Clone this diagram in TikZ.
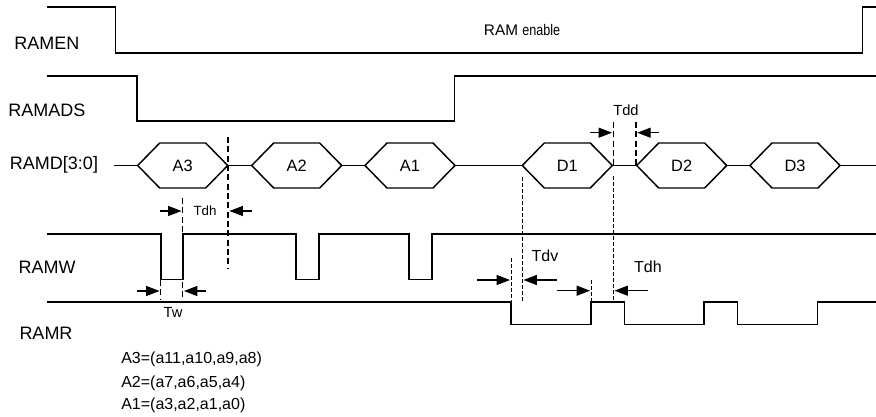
\documentclass[tikz,border=0pt]{standalone}
\usepackage{fontspec}
\setmainfont{Liberation Sans}
\usetikzlibrary{arrows.meta}
\begin{document}
\begin{tikzpicture}[x=0.75pt,y=-0.75pt,
 sig/.style={line width=1.4pt},
 sigthin/.style={line width=1pt},
 hexline/.style={line width=1.1pt, line join=miter},
 lbl/.style={font=\fontsize{13.5}{16}\selectfont, inner sep=0},
 hexlbl/.style={font=\fontsize{12.3}{14}\selectfont, inner sep=0},
 txt/.style={font=\fontsize{12}{14}\selectfont, inner sep=0},
 thk/.style={line width=1.1pt, dash pattern=on 4.5pt off 2.5pt},
 thn/.style={line width=0.6pt, dash pattern=on 3pt off 1.5pt},
 dimarrow/.style={-{Triangle[length=10pt,width=7.5pt]}, line width=0.8pt},
]
\useasboundingbox (0,0) rectangle (876,417);

% signal names
\node[lbl] (lramen) at (47,43) {RAMEN};
\node[lbl] (lramads) at (47,110) {RAMADS};
\node[lbl] (lramd) at (54,165) {RAMD[3:0]};
\node[lbl] (lramw) at (47,267) {RAMW};
\node[lbl] (lramr) at (46,333) {RAMR};

% RAMEN
\draw[sig] (47,7.3) -- (115.5,7.3) -- (115.5,52.7) -- (862.5,52.7) -- (862.5,7.3) -- (876,7.3);
\node[inner sep=0] (ramenable) at (522,30) {\fontsize{11.5}{13}\selectfont RAM \scalebox{0.82}[1]{enable}};

% RAMADS
\draw[sig] (47,76) -- (137.3,76) -- (137.3,120.7) -- (454.5,120.7) -- (454.5,76) -- (876,76);

% RAMD bus with hexagons
\foreach \l/\n in {137.7/A3, 251.7/A2, 365/A1, 522.3/D1, 636.7/D2, 750/D3}{
  \draw[hexline] (\l,165.5) -- ++(22,-22.5) -- ++(46,0) -- ++(22,22.5) -- ++(-22,22.5) -- ++(-46,0) -- cycle;
  \node[hexlbl] (h\n) at (\l+45,165.5) {\n};
  \coordinate (hl\n) at (\l,165.5);
  \coordinate (hr\n) at (\l+90,165.5);
}
\coordinate (busstart) at (114,165.5);
\coordinate (busend) at (876,165.5);
\draw[hexline] (busstart) -- (hlA3);
\draw[hexline] (hrA3) -- (hlA2);
\draw[hexline] (hrA2) -- (hlA1);
\draw[hexline] (hrA1) -- (hlD1);
\draw[hexline] (hrD1) -- (hlD2);
\draw[hexline] (hrD2) -- (hlD3);
\draw[hexline] (hrD3) -- (busend);

% RAMW
\draw[sig] (47,234) -- (160.7,234) -- (160.7,279.5) -- (182.7,279.5) -- (182.7,234)
  -- (296,234) -- (296,279.5) -- (319,279.5) -- (319,234)
  -- (409.3,234) -- (409.3,279.5) -- (432.3,279.5) -- (432.3,234) -- (876,234);

% RAMR
\draw[sigthin] (47,302) -- (511,302) -- (511,324.5) -- (591,324.5) -- (591,302)
  -- (624.3,302) -- (624.3,324.5) -- (704,324.5) -- (704,302)
  -- (737.7,302) -- (737.7,324.5) -- (817.3,324.5) -- (817.3,302) -- (876,302);

% thick dashed guides (left)
\draw[thk] (228,137) -- (228,268);
\draw[thk] (182.7,198) -- (182.7,300);
\draw[thk] (160.7,280) -- (160.7,300);

% Tdh (left)
\coordinate (tdhLa) at (160,211);
\coordinate (tdhLb) at (181.5,211);
\coordinate (tdhLc) at (252,211);
\coordinate (tdhLd) at (229.5,211);
\draw[dimarrow] (tdhLa) -- (tdhLb);
\draw[dimarrow] (tdhLc) -- (tdhLd);
\node[inner sep=0, font=\fontsize{10}{12}\selectfont] (tdhL) at (205,211) {Tdh};

% Tw
\coordinate (twa) at (136.7,291);
\coordinate (twb) at (159.5,291);
\coordinate (twc) at (206,291);
\coordinate (twd) at (184,291);
\draw[dimarrow] (twa) -- (twb);
\draw[dimarrow] (twc) -- (twd);
\node[inner sep=0, font=\fontsize{11}{13}\selectfont] (tw) at (173,312) {Tw};

% Tdd
\draw[thk] (613.3,122) -- (613.3,166);
\draw[thk] (636,122) -- (636,166);
\coordinate (tdda) at (590,132.7);
\coordinate (tddb) at (612,132.7);
\coordinate (tddc) at (659,132.7);
\coordinate (tddd) at (637.3,132.7);
\draw[dimarrow] (tdda) -- (tddb);
\draw[dimarrow] (tddc) -- (tddd);
\node[inner sep=0, font=\fontsize{11}{13}\selectfont] (tdd) at (626,110) {Tdd};

% thin dashed guides (right)
\draw[thn] (522.3,177) -- (522.3,302);
\draw[thn] (613.3,176) -- (613.3,302);
\draw[thn] (511,258) -- (511,302);
\draw[thn] (591,280) -- (591,302);

% Tdv
\coordinate (tdva) at (477.3,280);
\coordinate (tdvb) at (510,280);
\coordinate (tdvc) at (556.7,280);
\coordinate (tdvd) at (523.5,280);
\draw[dimarrow] (tdva) -- (tdvb);
\draw[dimarrow] (tdvc) -- (tdvd);
\node[txt] (tdv) at (545,256) {Tdv};

% Tdh (right)
\coordinate (tdhRa) at (556.7,290.7);
\coordinate (tdhRb) at (590,290.7);
\coordinate (tdhRc) at (647.7,290.7);
\coordinate (tdhRd) at (614.5,290.7);
\draw[dimarrow] (tdhRa) -- (tdhRb);
\draw[dimarrow] (tdhRc) -- (tdhRd);
\node[txt] (tdhR) at (648,267) {Tdh};

% legend
\node[txt, anchor=west] (la3) at (121,359) {A3=(a11,a10,a9,a8)};
\node[txt, anchor=west] (la2) at (121,383) {A2=(a7,a6,a5,a4)};
\node[txt, anchor=west] (la1) at (121,405) {A1=(a3,a2,a1,a0)};
\end{tikzpicture}
\end{document}
